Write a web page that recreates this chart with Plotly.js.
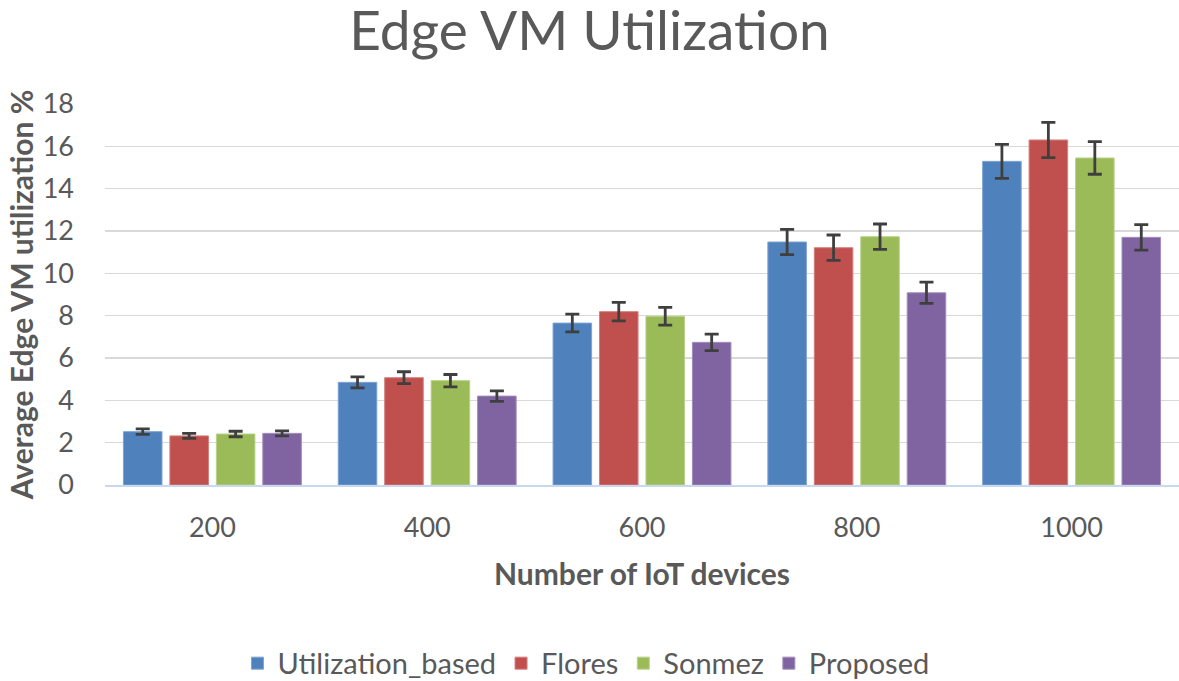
<!DOCTYPE html>
<html>
<head>
<meta charset="utf-8">
<script src="https://cdn.plot.ly/plotly-3.0.1.min.js"></script>
<style>html,body{margin:0;padding:0;background:#fff;}#chart{width:1179px;height:681px;}</style>
</head>
<body>
<div id="chart"></div>
<script>
const categories = ['200', '400', '600', '800', '1000'];
const seriesNames = ['Utilization_based', 'Flores', 'Sonmez', 'Proposed'];
const utilizationBased = [2.52, 4.85, 7.65, 11.48, 15.29];
const flores = [2.32, 5.07, 8.19, 11.21, 16.3];
const sonmez = [2.41, 4.93, 7.97, 11.73, 15.45];
const proposed = [2.44, 4.2, 6.74, 9.08, 11.7];
const errUtilizationBased = [0.13, 0.26, 0.42, 0.6, 0.8];
const errFlores = [0.12, 0.28, 0.44, 0.6, 0.83];
const errSonmez = [0.13, 0.29, 0.42, 0.6, 0.77];
const errProposed = [0.12, 0.25, 0.39, 0.5, 0.6];
const yTicks = [0, 2, 4, 6, 8, 10, 12, 14, 16, 18];

const values = [utilizationBased, flores, sonmez, proposed];
const errs = [errUtilizationBased, errFlores, errSonmez, errProposed];
const colors = ['#4f81bd', '#c0504d', '#9bbb59', '#8064a2'];
const lineColors = ['#7fa3d3', '#d47f7d', '#b9d18a', '#a28dbd'];
const font = 'Lato, "Open Sans", "DejaVu Sans", sans-serif';

const traces = seriesNames.map((name, i) => ({
  type: 'bar',
  name: name,
  x: categories,
  y: values[i],
  marker: {color: colors[i], line: {color: lineColors[i], width: 1}},
  error_y: {type: 'data', array: errs[i], visible: true, color: '#3f3f3f', thickness: 2.8, width: 7}
}));

const layout = {
  width: 1179,
  height: 681,
  paper_bgcolor: '#ffffff',
  plot_bgcolor: '#ffffff',
  margin: {l: 105, r: 0, t: 104, b: 196},
  font: {family: font, color: '#595959'},
  title: {text: 'Edge VM Utilization', font: {family: font, size: 55, color: '#595959'}, x: 0.5, xanchor: 'center', y: 0.955, yanchor: 'middle'},
  barmode: 'group',
  bargap: 0.135,
  bargroupgap: 0.17,
  showlegend: true,
  legend: {orientation: 'h', xref: 'container', x: 0.497, xanchor: 'center', yref: 'container', y: 0.026, yanchor: 'middle', font: {family: font, size: 29, color: '#595959'}, itemwidth: 30, traceorder: 'normal'},
  xaxis: {
    type: 'category',
    automargin: false,
    tickfont: {family: font, size: 27, color: '#595959'},
    showline: true, linecolor: '#c6d9f1', linewidth: 2,
    ticks: '', ticklen: 0, ticklabelstandoff: 18,
    title: {text: '<b>Number of IoT devices</b>', font: {family: font, size: 30, color: '#595959'}, standoff: 22}
  },
  yaxis: {
    range: [0, 18],
    automargin: false,
    tickvals: yTicks,
    ticktext: yTicks.map(String),
    tickfont: {family: font, size: 27, color: '#595959'},
    gridcolor: '#d9d9d9', gridwidth: 1.5,
    zeroline: false,
    ticks: '', ticklabelstandoff: 30,
    title: {text: '<b>Average Edge VM utilization %</b>', font: {family: font, size: 30, color: '#595959'}, standoff: 0}
  }
};

Plotly.newPlot('chart', traces, layout, {displayModeBar: false, staticPlot: true});
</script>
</body>
</html>
